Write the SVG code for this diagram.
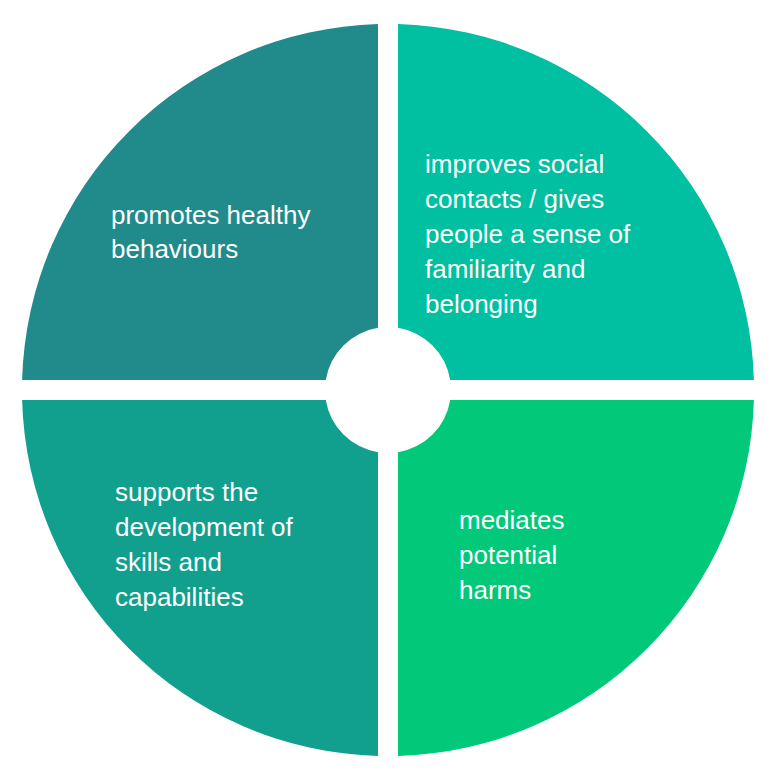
<svg xmlns="http://www.w3.org/2000/svg" width="782" height="778" viewBox="0 0 782 778">
<style>
text{font-family:"Liberation Sans",Arial,sans-serif;font-size:26px;fill:#fff}
</style>
<rect width="782" height="778" fill="#fff"/>
<g id="tl"><path d="M378,24.1 A366,366 0 0 0 22.1,380 L325.8,380 A63,63 0 0 1 378,327.8 Z" fill="#218A8B"/>
<text x="111" y="224">promotes healthy</text><text x="111" y="258">behaviours</text></g>
<g id="tr"><path d="M398,24.1 A366,366 0 0 1 753.9,380 L450.2,380 A63,63 0 0 0 398,327.8 Z" fill="#01BFA1"/>
<text x="425" y="173">improves social</text><text x="425" y="208">contacts / gives</text><text x="425" y="243">people a sense of</text><text x="425" y="278">familiarity and</text><text x="425" y="313">belonging</text></g>
<g id="bl"><path d="M22.1,400 A366,366 0 0 0 378,755.9 L378,452.2 A63,63 0 0 1 325.8,400 Z" fill="#12A08E"/>
<text x="115" y="501">supports the</text><text x="115" y="536">development of</text><text x="115" y="571">skills and</text><text x="115" y="606">capabilities</text></g>
<g id="br"><path d="M753.9,400 A366,366 0 0 1 398,755.9 L398,452.2 A63,63 0 0 0 450.2,400 Z" fill="#02C87A"/>
<text x="459" y="529">mediates</text><text x="459" y="564">potential</text><text x="459" y="599">harms</text></g>
<g id="connectors"/>
</svg>
